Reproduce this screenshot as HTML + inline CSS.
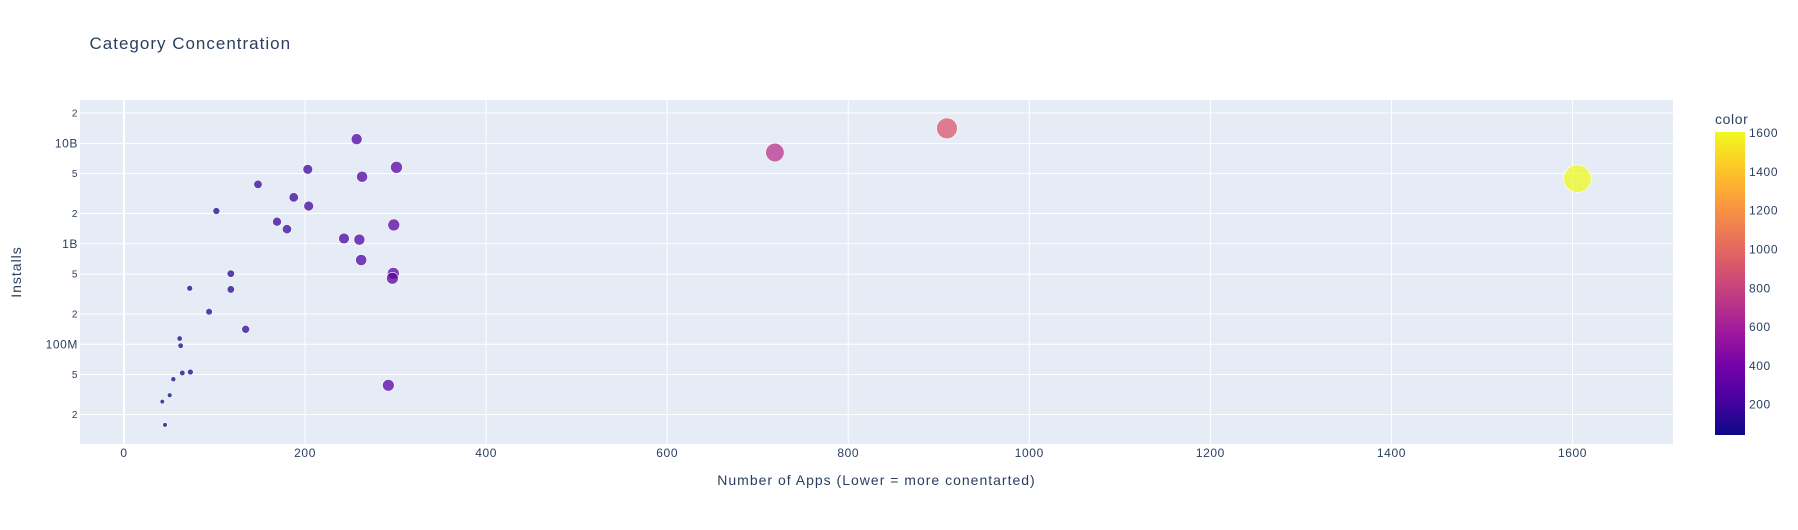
<!DOCTYPE html>
<html><head><meta charset="utf-8"><style>
body{margin:0;background:#fff;}
text{font-family:"Liberation Sans",Arial,sans-serif;fill:#2a3f5f;letter-spacing:0.6px;}
</style></head><body>
<svg id="chart" width="1798" height="525" xmlns="http://www.w3.org/2000/svg">
<defs>
<linearGradient id="plasma" x1="0" y1="1" x2="0" y2="0">
<stop offset="0" stop-color="#0d0887"/><stop offset="0.111" stop-color="#46039f"/><stop offset="0.222" stop-color="#7201a8"/><stop offset="0.333" stop-color="#9c179e"/><stop offset="0.444" stop-color="#bd3786"/><stop offset="0.556" stop-color="#d8576b"/><stop offset="0.667" stop-color="#ed7953"/><stop offset="0.778" stop-color="#fb9f3a"/><stop offset="0.889" stop-color="#fdca26"/><stop offset="1" stop-color="#f0f921"/>
</linearGradient>
</defs>
<text x="89.5" y="49" font-size="17" style="letter-spacing:1px">Category Concentration</text>
<rect x="80" y="100" width="1593" height="344" fill="#e5ecf6"/>
<g id="grid"></g>
<g id="marks"></g>
<g id="xticks"></g>
<g id="yticks"></g>
<text x="876.5" y="485" font-size="14" text-anchor="middle" style="letter-spacing:1px">Number of Apps (Lower = more conentarted)</text>
<text x="21" y="272" font-size="14" text-anchor="middle" transform="rotate(-90 21 272)" style="letter-spacing:1px">Installs</text>
<text x="1715" y="124" font-size="14">color</text>
<rect x="1715" y="132" width="30" height="303" fill="url(#plasma)"/>
<g id="cticks"></g>
</svg>
<script>
const apps = [257,301,203,263,148,187.5,204,102,169,298,180,243,260,262,118,297.5,296.5,72.6,118,94,134.4,61.5,62.6,64.4,73.3,54.5,292,50.5,42.3,45.3,719,909,1605.5];
const installs = [11.0e9,5.77e9,5.5e9,4.65e9,3.9e9,2.9e9,2.38e9,2.12e9,1.66e9,1.54e9,1.40e9,1.13e9,1.10e9,690e6,504e6,508e6,454e6,361e6,352e6,211e6,141e6,114e6,96.8e6,51.8e6,53e6,44.9e6,39.1e6,31.1e6,26.9e6,15.8e6,8.1e9,14.1e9,4.45e9];
const xTicks = [0,200,400,600,800,1000,1200,1400,1600];
const yMajor = [1e8,1e9,1e10];
const yMajorLabels = ["100M","1B","10B"];
const yMinor = [2e7,5e7,2e8,5e8,2e9,5e9,2e10];
const yMinorLabels = ["2","5","2","5","2","5","2"];
const cTicks = [200,400,600,800,1000,1200,1400,1600];

const NS="http://www.w3.org/2000/svg";
const X0=-48.6,X1=1711,L=80,R=1673,T=100,B=444,LY0=7.008,LY1=10.431;
const CMIN=43.7,CMAX=1606,CT=132,CB=435;
function xs(v){return L+(v-X0)/(X1-X0)*(R-L);}
function ys(v){return B-(Math.log10(v)-LY0)/(LY1-LY0)*(B-T);}
function cs(v){return CB-(v-CMIN)/(CMAX-CMIN)*(CB-CT);}
const stops=[[13,8,135],[70,3,159],[114,1,168],[156,23,158],[189,55,134],[216,87,107],[237,121,83],[251,159,58],[253,202,38],[240,249,33]];
function color(v){let t=Math.max(0,Math.min(1,(v-CMIN)/(CMAX-CMIN)))*9;let i=Math.min(8,Math.floor(t)),f=t-i;let a=stops[i],b=stops[i+1];return `rgb(${a.map((c,k)=>Math.round(c+(b[k]-c)*f)).join(',')})`;}
function mk(tag,attrs,parent,txt){const e=document.createElementNS(NS,tag);for(const k in attrs)e.setAttribute(k,attrs[k]);if(txt!==undefined)e.textContent=txt;parent.appendChild(e);return e;}
const grid=document.getElementById('grid'),marks=document.getElementById('marks'),xt=document.getElementById('xticks'),yt=document.getElementById('yticks'),ct=document.getElementById('cticks');
xTicks.forEach(v=>{
  const l=mk('line',{x1:xs(v),x2:xs(v),y1:T,y2:B,stroke:'#fff','stroke-width':v===0?2:1},grid);
  
  
  const t=mk('text',{x:xs(v),y:457,'font-size':12,'text-anchor':'middle'},xt,String(v));
  
  
});
yMajor.concat(yMinor).forEach(v=>{
  const l=mk('line',{x1:L,x2:R,y1:ys(v),y2:ys(v),stroke:'#fff','stroke-width':1},grid);
  
  
});
yMajor.forEach((v,i)=>{
  const t=mk('text',{x:78,y:ys(v)+4,'font-size':12,'text-anchor':'end'},yt,yMajorLabels[i]);
  
  
});
yMinor.forEach((v,i)=>{
  const t=mk('text',{x:78,y:ys(v)+3.5,'font-size':10,'text-anchor':'end'},yt,yMinorLabels[i]);
  
  
});
apps.forEach((a,i)=>{
  const c=mk('circle',{cx:xs(a),cy:ys(installs[i]),r:0.345*Math.sqrt(a),fill:color(a),'fill-opacity':0.75,stroke:'#fff','stroke-width':0.6},marks);
  
  
});
cTicks.forEach(v=>{
  const t=mk('text',{x:1749,y:cs(v)+4,'font-size':12},ct,String(v));
  
  
});
</script>
</body></html>
